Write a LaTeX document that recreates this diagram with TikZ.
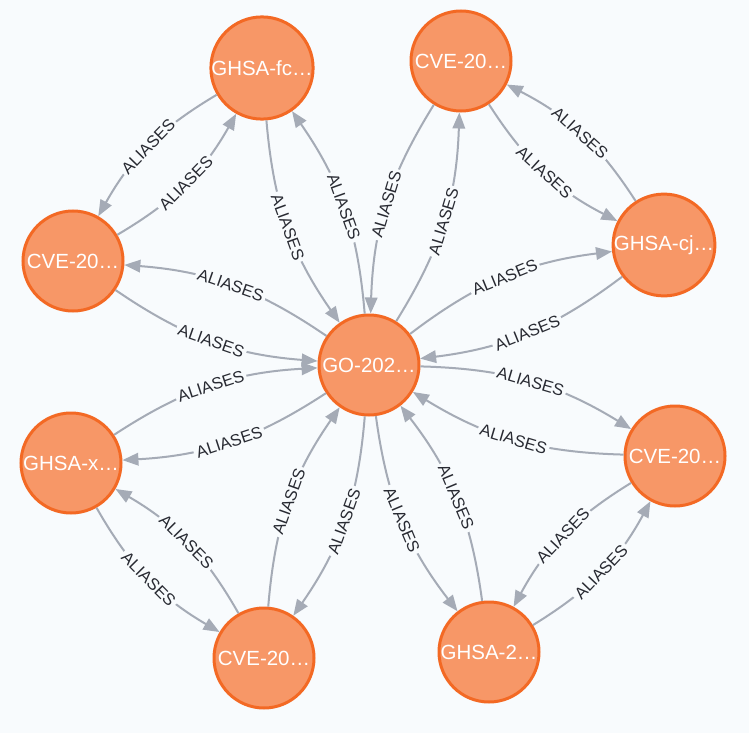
\documentclass[tikz,border=0pt]{standalone}
\usepackage{fontspec}
\setmainfont{Liberation Sans}
\usepackage{xcolor}
\usepackage{tikz}
\usetikzlibrary{arrows.meta}

\definecolor{canvas}{RGB}{248,251,253}
\definecolor{nodefill}{RGB}{247,151,103}
\definecolor{noderim}{RGB}{243,105,36}
\definecolor{relline}{RGB}{165,171,182}
\definecolor{reltext}{RGB}{40,42,50}

\begin{document}
\begin{tikzpicture}[x=1pt, y=-1pt,
    vuln/.style={circle, draw=noderim, fill=nodefill, line width=3pt,
        minimum size=100pt, inner sep=0pt, text=white,
        font=\fontsize{20.5}{24}\selectfont},
    every edge/.style={draw=relline, line width=2pt,
        -{Triangle[length=16pt, width=12.5pt]}},
    rellabel/.style={sloped, fill=canvas, inner sep=2.5pt, text=reltext,
        font=\fontsize{16.5}{19}\selectfont}]
            \fill[canvas] (0,0) rectangle (749,733);
            \useasboundingbox (0,0) rectangle (749,733);

            \node[vuln] (go) at (369,365) {GO-202…};
            \node[vuln] (ghsafc) at (262,68) {GHSA-fc…};
            \node[vuln] (cvetop) at (461,61) {CVE-20…};
            \node[vuln] (ghsacj) at (664,245) {GHSA-cj…};
            \node[vuln] (cveleft) at (73,261) {CVE-20…};
            \node[vuln] (ghsax) at (71,463) {GHSA-x…};
            \node[vuln] (cvebottom) at (264,658) {CVE-20…};
            \node[vuln] (ghsa2) at (489,652) {GHSA-2…};
            \node[vuln] (cveright) at (675,456) {CVE-20…};

            \path
            (ghsafc) edge [bend right=15] node[rellabel] {ALIASES} (cveleft)
            (cveleft) edge [bend right=15] node[rellabel] {ALIASES} (ghsafc)
            (ghsafc) edge [bend right=15] node[rellabel] {ALIASES} (go)
            (go) edge [bend right=15] node[rellabel] {ALIASES} (ghsafc)
            (cvetop) edge [bend right=15] node[rellabel] {ALIASES} (go)
            (go) edge [bend right=15] node[rellabel] {ALIASES} (cvetop)
            (cvetop) edge [bend right=15] node[rellabel] {ALIASES} (ghsacj)
            (ghsacj) edge [bend right=15] node[rellabel] {ALIASES} (cvetop)
            (ghsacj) edge [bend left=15] node[rellabel] {ALIASES} (go)
            (go) edge [bend left=15] node[rellabel] {ALIASES} (ghsacj)
            (cveleft) edge [bend right=15] node[rellabel] {ALIASES} (go)
            (go) edge [bend right=15] node[rellabel] {ALIASES} (cveleft)

            (ghsax) edge [bend left=15] node[rellabel] {ALIASES} (go)
            (go) edge [bend left=15] node[rellabel] {ALIASES} (ghsax)
            (ghsax) edge [bend right=15] node[rellabel] {ALIASES} (cvebottom)
            (cvebottom) edge [bend right=15] node[rellabel] {ALIASES} (ghsax)
            (cvebottom) edge [bend left=15] node[rellabel] {ALIASES} (go)
            (go) edge [bend left=15] node[rellabel] {ALIASES} (cvebottom)
            (ghsa2) edge [bend right=15] node[rellabel] {ALIASES} (go)
            (go) edge [bend right=15] node[rellabel] {ALIASES} (ghsa2)
            (ghsa2) edge [bend right=15] node[rellabel] {ALIASES} (cveright)
            (cveright) edge [bend right=15] node[rellabel] {ALIASES} (ghsa2)
            (cveright) edge [bend left=15] node[rellabel] {ALIASES} (go)
            (go) edge [bend left=15] node[rellabel] {ALIASES} (cveright);
        \end{tikzpicture}
\end{document}
